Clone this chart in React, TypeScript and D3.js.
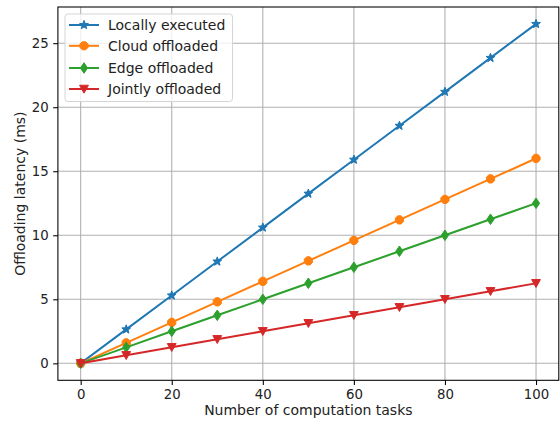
import React, { useEffect, useRef } from "react";
import * as d3 from "d3";

const tasks = [0, 10, 20, 30, 40, 50, 60, 70, 80, 90, 100];
const localExec = [0, 2.65, 5.3, 7.95, 10.6, 13.25, 15.9, 18.55, 21.2, 23.85, 26.5];
const cloudOff = [0, 1.6, 3.2, 4.8, 6.4, 8.0, 9.6, 11.2, 12.8, 14.4, 16.0];
const edgeOff = [0, 1.25, 2.5, 3.75, 5.0, 6.25, 7.5, 8.75, 10.0, 11.25, 12.5];
const jointOff = [0, 0.625, 1.25, 1.875, 2.5, 3.125, 3.75, 4.375, 5.0, 5.625, 6.25];
const xTicks = [0, 20, 40, 60, 80, 100];
const yTicks = [0, 5, 10, 15, 20, 25];

const series = [
  { name: "Locally executed", values: localExec, color: "#1f77b4", marker: "star" },
  { name: "Cloud offloaded", values: cloudOff, color: "#ff7f0e", marker: "octagon" },
  { name: "Edge offloaded", values: edgeOff, color: "#2ca02c", marker: "thindiamond" },
  { name: "Jointly offloaded", values: jointOff, color: "#d62728", marker: "triangledown" },
];

// marker path centred on 0,0
function markerPath(kind: string): string {
  const r = 4.4;
  if (kind === "star") {
    const pts: [number, number][] = [];
    for (let i = 0; i < 10; i++) {
      const a = (Math.PI / 5) * i - Math.PI / 2;
      const rr = i % 2 === 0 ? r * 1.05 : r * 0.45;
      pts.push([Math.cos(a) * rr, Math.sin(a) * rr]);
    }
    return "M" + pts.map((p) => p.join(",")).join("L") + "Z";
  }
  if (kind === "octagon") {
    const pts: [number, number][] = [];
    for (let i = 0; i < 8; i++) {
      const a = (Math.PI / 4) * i + Math.PI / 8;
      pts.push([Math.cos(a) * r, Math.sin(a) * r]);
    }
    return "M" + pts.map((p) => p.join(",")).join("L") + "Z";
  }
  if (kind === "thindiamond") {
    return `M0,${-r * 1.2}L${r * 0.82},0L0,${r * 1.2}L${-r * 0.82},0Z`;
  }
  // triangle down
  return `M${-r},${-r * 0.85}L${r},${-r * 0.85}L0,${r * 0.95}Z`;
}

const App: React.FC = () => {
  const ref = useRef<SVGSVGElement | null>(null);

  useEffect(() => {
    const width = 560;
    const height = 421;
    const margin = { top: 7, right: 1.2, bottom: 40.7, left: 57.9 };
    const w = width - margin.left - margin.right;
    const h = height - margin.top - margin.bottom;

    const svg = d3.select(ref.current);
    svg.selectAll("*").remove();
    svg.attr("width", width).attr("height", height);
    svg.append("rect").attr("width", width).attr("height", height).attr("fill", "white");

    const g = svg.append("g").attr("transform", `translate(${margin.left},${margin.top})`);

    const x = d3.scaleLinear().domain([-5, 105]).range([0, w]);
    const y = d3.scaleLinear().domain([-1.325, 27.825]).range([h, 0]);

    const font = "DejaVu Sans, sans-serif";

    // grid
    g.append("g")
      .selectAll("line")
      .data(xTicks)
      .enter()
      .append("line")
      .attr("x1", (d) => x(d))
      .attr("x2", (d) => x(d))
      .attr("y1", 0)
      .attr("y2", h)
      .attr("stroke", "#b0b0b0")
      .attr("stroke-width", 1.07);
    g.append("g")
      .selectAll("line")
      .data(yTicks)
      .enter()
      .append("line")
      .attr("x1", 0)
      .attr("x2", w)
      .attr("y1", (d) => y(d))
      .attr("y2", (d) => y(d))
      .attr("stroke", "#b0b0b0")
      .attr("stroke-width", 1.07);

    // axes
    const xAxis = g
      .append("g")
      .attr("transform", `translate(0,${h})`)
      .call(d3.axisBottom(x).tickValues(xTicks).tickSize(4.7).tickPadding(4.5));
    const yAxis = g
      .append("g")
      .call(d3.axisLeft(y).tickValues(yTicks).tickSize(4.7).tickPadding(4.5));
    [xAxis, yAxis].forEach((ax) => {
      ax.select(".domain").remove();
      ax.selectAll(".tick line").attr("stroke", "black").attr("stroke-width", 1.07);
      ax.selectAll(".tick text")
        .attr("fill", "#222")
        .style("font-family", font)
        .style("font-size", "13.3px");
    });

    // series
    const line = d3
      .line<number>()
      .x((_, i) => x(tasks[i]))
      .y((d) => y(d));

    series.forEach((s) => {
      g.append("path")
        .datum(s.values)
        .attr("fill", "none")
        .attr("stroke", s.color)
        .attr("stroke-width", 2)
        .attr("stroke-linejoin", "round")
        .attr("stroke-linecap", "square")
        .attr("d", line);
      g.append("g")
        .selectAll("path")
        .data(s.values)
        .enter()
        .append("path")
        .attr("transform", (d, i) => `translate(${x(tasks[i])},${y(d)})`)
        .attr("d", markerPath(s.marker))
        .attr("fill", s.color)
        .attr("stroke", s.color)
        .attr("stroke-width", 1);
    });

    // frame
    g.append("rect")
      .attr("width", w)
      .attr("height", h)
      .attr("fill", "none")
      .attr("stroke", "black")
      .attr("stroke-width", 1.07);

    // legend
    const leg = g.append("g").attr("transform", `translate(${65 - margin.left},${14 - margin.top})`);
    leg.append("rect")
      .attr("width", 167.5)
      .attr("height", 87.5)
      .attr("rx", 3)
      .attr("fill", "white")
      .attr("fill-opacity", 0.8)
      .attr("stroke", "#d5d5d5")
      .attr("stroke-width", 1);
    const rowY = [11, 31.8, 54, 75];
    series.forEach((s, i) => {
      const ry = rowY[i];
      leg.append("line")
        .attr("x1", 4)
        .attr("x2", 34)
        .attr("y1", ry)
        .attr("y2", ry)
        .attr("stroke", s.color)
        .attr("stroke-width", 2);
      leg.append("path")
        .attr("transform", `translate(19,${ry})`)
        .attr("d", markerPath(s.marker))
        .attr("fill", s.color)
        .attr("stroke", s.color);
      leg.append("text")
        .attr("x", 43)
        .attr("y", ry)
        .attr("dy", "0.35em")
        .attr("fill", "#222")
        .style("font-family", font)
        .style("font-size", "14px")
        .text(s.name);
    });

    // axis labels
    svg.append("text")
      .attr("x", margin.left + w / 2)
      .attr("y", 415)
      .attr("text-anchor", "middle")
      .attr("fill", "#222")
      .style("font-family", font)
      .style("font-size", "14px")
      .text("Number of computation tasks");
    svg.append("text")
      .attr("transform", `translate(25,${margin.top + h / 2}) rotate(-90)`)
      .attr("text-anchor", "middle")
      .attr("fill", "#222")
      .style("font-family", font)
      .style("font-size", "14px")
      .text("Offloading latency (ms)");
  }, []);

  return (
    <div style={{ position: "absolute", left: 0, top: 0 }}>
      <svg ref={ref}></svg>
    </div>
  );
};

export default App;
